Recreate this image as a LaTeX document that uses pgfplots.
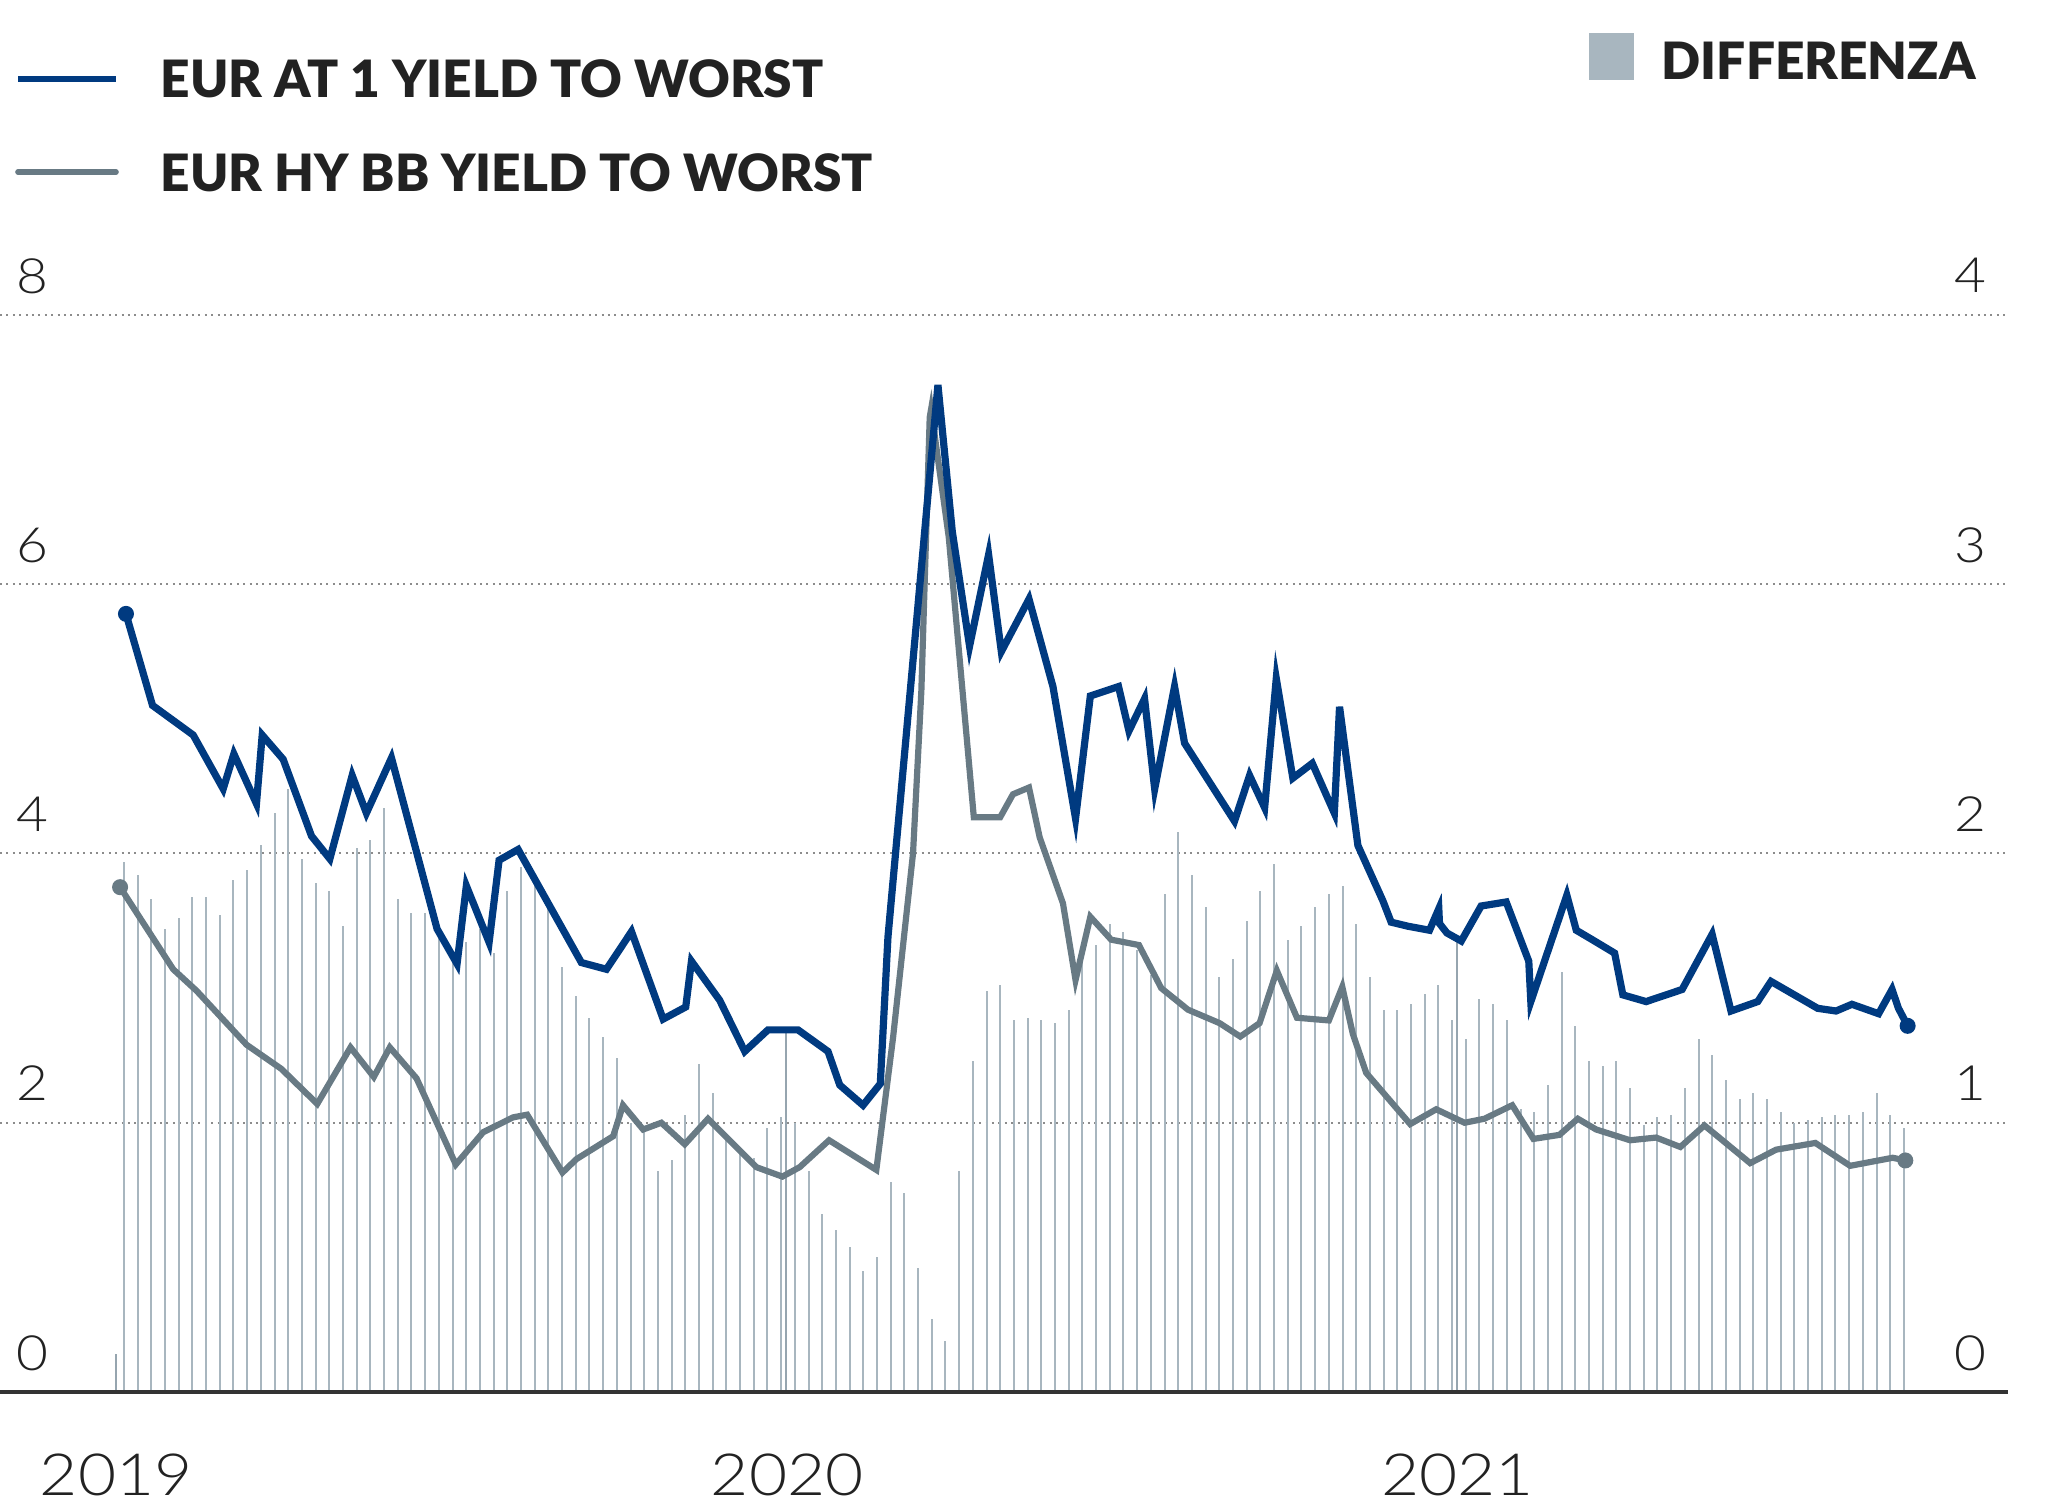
\documentclass[border=0pt]{standalone}
\usepackage{pgfplots}
\pgfplotsset{compat=1.18}
\usepackage{fontspec}
\setmainfont{Lato}
\newfontfamily\legfont{Lato Black}
\newfontfamily\tickfont{Lato Light}[FakeStretch=1.13]
\definecolor{navy}{RGB}{0,58,128}
\definecolor{bbgray}{RGB}{104,122,132}
\definecolor{barcol}{RGB}{168,182,191}
\definecolor{markcol}{RGB}{150,165,175}
\definecolor{txt}{RGB}{34,34,34}
\begin{document}
\begin{tikzpicture}
\path[use as bounding box] (0,0) rectangle (512bp,378bp);
% ---------- bars (right axis) ----------
\begin{axis}[
  at={(0bp,30bp)}, anchor=south west,
  scale only axis, width=502bp, height=269.25bp,
  xmin=-9.05, xmax=137.6, ymin=0, ymax=4,
  axis line style={draw=none},
  xtick=\empty,
  ytick={0,1,2,3,4},
  yticklabels={0,1,2,3,4},
  ytick pos=right, yticklabel pos=right,
  major tick length=0pt,
  ymajorgrids,
  grid style={draw=black!45, line width=0.5bp, dash pattern=on 0.5bp off 1.1bp},
  /pgf/number format/assume math mode=true,
  yticklabel style={font=\tickfont\fontsize{12.2}{14}\selectfont, text=txt, anchor=base east, inner sep=0pt, xshift=-5.25bp, yshift=5.5bp},
]
\addplot[ycomb, draw=barcol, line width=0.5bp, mark=none] table {
x y
0 1.97
1 1.92
2 1.83
3 1.72
4 1.76
5 1.84
6 1.84
7 1.77
8 1.90
9 1.94
10 2.03
11 2.15
12 2.24
13 1.98
14 1.89
15 1.86
16 1.73
17 2.02
18 2.05
19 2.17
20 1.83
21 1.78
22 1.78
23 1.72
24 1.62
25 1.67
26 1.72
27 1.63
28 1.86
29 1.95
30 1.90
31 1.80
32 1.58
33 1.47
34 1.39
35 1.32
36 1.24
37 1.00
38 0.97
39 0.82
40 0.86
41 1.03
42 1.22
43 1.11
44 0.96
45 0.90
46 0.87
47 0.98
48 1.02
49 1.00
50 0.82
51 0.66
52 0.60
53 0.54
54 0.45
55 0.50
56 0.78
57 0.74
58 0.46
59 0.27
60 0.19
61 0.82
62 1.23
63 1.49
64 1.51
65 1.38
66 1.39
67 1.38
68 1.37
69 1.42
70 1.60
71 1.66
72 1.74
73 1.71
74 1.64
75 1.55
76 1.85
77 2.08
78 1.92
79 1.80
80 1.54
81 1.61
82 1.75
83 1.86
84 1.96
85 1.68
86 1.73
87 1.80
88 1.85
89 1.88
90 1.74
91 1.54
92 1.42
93 1.42
94 1.44
95 1.48
96 1.51
97 1.38
98 1.31
99 1.46
100 1.44
101 1.38
102 1.05
103 1.04
104 1.14
105 1.56
106 1.36
107 1.23
108 1.21
109 1.23
110 1.13
111 0.99
112 1.02
113 1.03
114 1.13
115 1.31
116 1.25
117 1.16
118 1.09
119 1.11
120 1.09
121 1.04
122 1.00
123 1.01
124 1.02
125 1.03
126 1.03
127 1.04
128 1.11
129 1.03
130 0.98
};
\addplot[ycomb, draw=markcol, line width=0.5bp, mark=none] coordinates {(-0.56,0.14) (48.38,1.35) (97.37,1.67)};
\end{axis}
% ---------- yields (left axis) ----------
\begin{axis}[
  at={(0bp,30bp)}, anchor=south west,
  scale only axis, width=502bp, height=269.25bp,
  xmin=-9.05, xmax=137.6, ymin=0, ymax=8,
  axis x line*=bottom, axis y line*=left,
  x axis line style={draw=black!80, line width=0.8bp},
  y axis line style={draw=none},
  xtick={-0.56,48.44,97.4},
  xticklabels={2019,2020,2021},
  ytick={0,2,4,6,8},
  yticklabels={0,2,4,6,8},
  major tick length=0pt,
  /pgf/number format/assume math mode=true,
  xticklabel style={font=\tickfont\fontsize{14.6}{17}\selectfont, text=txt, anchor=base, inner sep=0pt, yshift=-25.75bp},
  yticklabel style={font=\tickfont\fontsize{12.2}{14}\selectfont, text=txt, anchor=base west, inner sep=0pt, xshift=4bp, yshift=5.5bp},
  clip=false,
]
\addplot[draw=bbgray, line width=1.55bp, mark=none] table {
x y
-0.28 3.75
3.6 3.14
5.31 2.98
8.95 2.58
11.5 2.40
14.12 2.14
16.55 2.56
18.25 2.34
19.42 2.56
21.37 2.33
24.24 1.69
26.24 1.93
28.42 2.04
29.45 2.06
32.03 1.63
33.05 1.73
35.73 1.90
36.45 2.13
37.92 1.95
39.25 2.00
40.96 1.84
42.66 2.03
46.19 1.67
48.09 1.60
49.35 1.67
51.5 1.87
54.95 1.65
56.17 2.63
57.63 4.00
58.24 5.21
58.85 7.24
58.95 7.30
60.24 6.35
62.07 4.27
64.0 4.27
64.93 4.44
66.1 4.49
66.88 4.12
68.58 3.63
69.5 3.06
70.58 3.53
72.1 3.36
74.13 3.32
75.76 3.00
77.71 2.84
80.02 2.74
81.53 2.64
82.94 2.74
84.2 3.13
85.67 2.78
88.0 2.76
88.98 3.01
89.75 2.66
90.73 2.37
93.94 1.99
95.84 2.10
97.91 2.00
99.37 2.03
101.39 2.13
102.94 1.88
104.84 1.91
106.18 2.03
107.52 1.95
110.0 1.87
111.9 1.89
113.67 1.82
115.43 1.98
118.77 1.70
120.66 1.80
123.53 1.85
126.07 1.68
129.18 1.74
130.1 1.72
};
\addplot[draw=navy, line width=1.8bp, mark=none] table {
x y
0.15 5.78
2.09 5.10
5.06 4.88
7.25 4.48
8.03 4.74
9.68 4.37
10.1 4.88
11.63 4.70
13.7 4.13
15.04 3.96
16.67 4.58
17.71 4.30
19.54 4.71
22.87 3.44
24.33 3.18
25.01 3.76
26.67 3.34
27.4 3.95
28.79 4.03
33.41 3.19
35.24 3.14
37.07 3.42
39.38 2.77
41.03 2.86
41.45 3.20
43.51 2.91
45.34 2.53
47.04 2.69
49.23 2.69
51.42 2.53
52.28 2.28
53.98 2.13
55.24 2.29
55.8 3.38
59.45 7.48
60.5 6.39
61.76 5.54
63.15 6.22
64.08 5.50
66.1 5.89
67.85 5.24
69.5 4.26
70.58 5.17
72.64 5.24
73.4 4.91
74.54 5.15
75.28 4.48
76.73 5.24
77.46 4.82
81.11 4.24
82.21 4.58
83.31 4.34
84.16 5.30
85.37 4.56
86.79 4.67
88.4 4.30
88.78 5.09
90.12 4.06
91.94 3.65
92.55 3.49
93.77 3.46
95.35 3.43
96.03 3.59
96.08 3.48
96.62 3.41
97.67 3.35
99.12 3.61
100.95 3.64
102.6 3.20
102.75 2.90
105.38 3.69
106.07 3.43
107.4 3.35
108.87 3.26
109.47 2.95
111.17 2.90
113.8 2.99
115.99 3.40
117.37 2.83
119.32 2.90
120.29 3.05
123.7 2.85
125.04 2.83
126.2 2.88
128.15 2.81
129.13 2.99
129.6 2.85
130.27 2.72
};
\addplot[only marks, mark=*, mark size=1.8bp, color=bbgray] coordinates {(-0.28,3.75) (130.1,1.72)};
\addplot[only marks, mark=*, mark size=1.8bp, color=navy] coordinates {(0.15,5.78) (130.27,2.72)};
\end{axis}
% ---------- legend ----------
\draw[navy, line width=1.6bp] (4.5bp,358.25bp) -- (29bp,358.25bp);
\draw[bbgray, line width=1.4bp, line cap=round] (4.5bp,335bp) -- (29bp,335bp);
\node[anchor=base west, inner sep=0pt, text=txt, font=\legfont\fontsize{12.9}{15}\selectfont] at (40bp,353.5bp) {EUR AT 1 YIELD TO WORST};
\node[anchor=base west, inner sep=0pt, text=txt, font=\legfont\fontsize{12.9}{15}\selectfont] at (40bp,330bp) {EUR HY BB YIELD TO WORST};
\fill[barcol] (397.25bp,358bp) rectangle (408.5bp,369.75bp);
\node[anchor=base west, inner sep=0pt, text=txt, font=\legfont\fontsize{12.9}{15}\selectfont] at (415.25bp,358bp) {DIFFERENZA};
\end{tikzpicture}
\end{document}
